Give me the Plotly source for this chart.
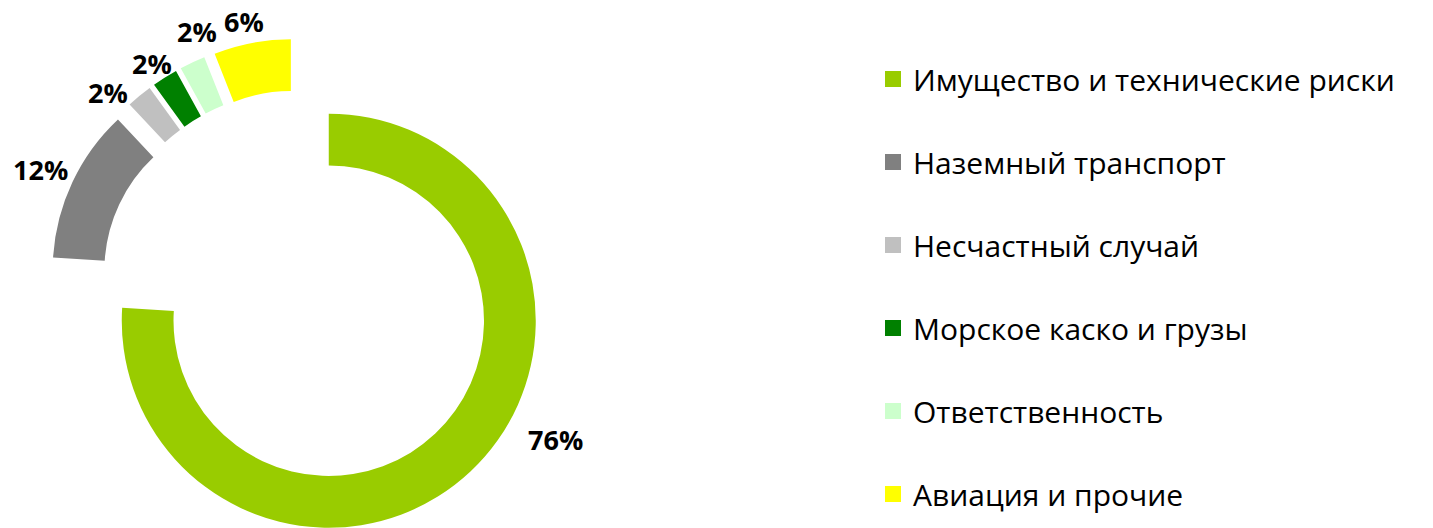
import math
import plotly.graph_objects as go

# ---- data ----
categories = ["Имущество и технические риски", "Наземный транспорт", "Несчастный случай",
              "Морское каско и грузы", "Ответственность", "Авиация и прочие"]
shares = [76, 12, 2, 2, 2, 6]
colors = ["#99CC00", "#808080", "#C0C0C0", "#008000", "#CCFFCC", "#FFFF00"]

# ---- layout parameters ----
W, H = 1433, 528
R = 207            # outer radius (px)
HOLE = 0.75
PULL = 0.21        # explosion as fraction of radius (all slices)
CX, CY = 299, 289  # true donut centre (px)
# data-label centres (px)
label_pos = [(555, 439), (40, 169), (108, 92), (152, 63), (197, 32), (244, 22)]

fig = go.Figure()

total = sum(shares)
cum = 0
for k, v in enumerate(shares):
    mid = (cum + v / 2) / total * 2 * math.pi  # clockwise from 12 o'clock
    cum += v
    d = PULL * R
    cx = CX + d * math.sin(mid)
    cy = CY - d * math.cos(mid)
    fig.add_trace(go.Pie(
        values=shares, labels=categories, sort=False, direction="clockwise", rotation=0,
        hole=HOLE,
        marker=dict(colors=[colors[i] if i == k else "rgba(0,0,0,0)" for i in range(len(shares))],
                    line=dict(width=0)),
        textinfo="none", hoverinfo="skip", showlegend=False,
        domain=dict(x=[(cx - R) / W, (cx + R) / W],
                    y=[max(0, 1 - (cy + R) / H), min(1, 1 - (cy - R) / H)]),
    ))

# legend entries
for k, name in enumerate(categories):
    fig.add_trace(go.Scatter(
        x=[None], y=[None], mode="markers", name=name, legendgroup=f"g{k}",
        marker=dict(symbol="square", size=16, color=colors[k], line=dict(width=0)),
    ))

for (px, py), v in zip(label_pos, shares):
    fig.add_annotation(
        x=px / W, y=1 - py / H, xref="paper", yref="paper", text=f"{v}%",
        showarrow=False, xanchor="center", yanchor="middle",
        font=dict(family="Open Sans", size=27, color="#000000", weight="bold"),
    )

fig.update_layout(
    width=W, height=H, margin=dict(l=0, r=0, t=0, b=0),
    paper_bgcolor="white", plot_bgcolor="white",
    xaxis=dict(visible=False), yaxis=dict(visible=False),
    legend=dict(x=873 / W, y=1 - 53 / H, xanchor="left", yanchor="top",
                font=dict(family="Open Sans", size=30, color="#000000"),
                tracegroupgap=41, bgcolor="rgba(0,0,0,0)", borderwidth=0),
)

fig.write_html("out.html")
